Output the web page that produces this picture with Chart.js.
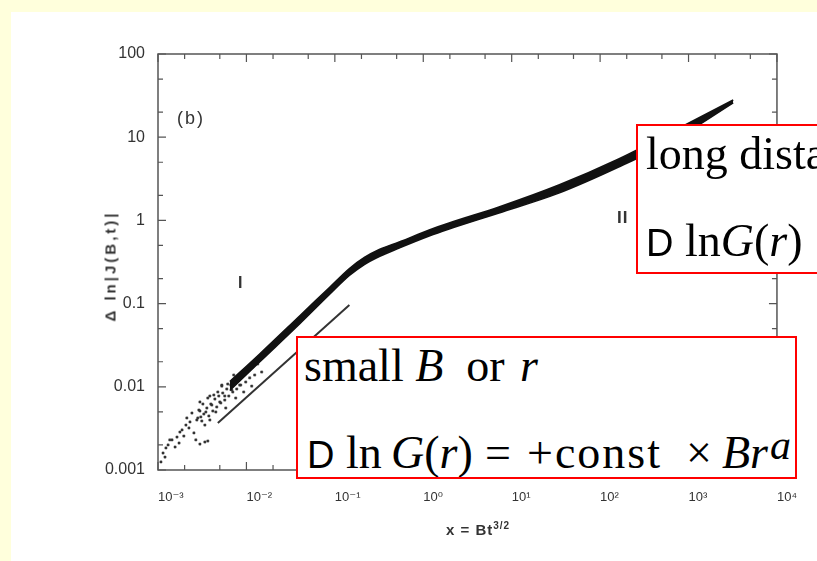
<!DOCTYPE html>
<html>
<head>
<meta charset="utf-8">
<script src="https://cdn.jsdelivr.net/npm/chart.js@4.4.1/dist/chart.umd.min.js"></script>
<style>
  html, body { margin: 0; padding: 0; width: 817px; height: 561px; overflow: hidden; background: #ffffdc; }
  #panel { position: absolute; left: 11px; top: 12px; right: 0; bottom: 0; background: #fff; }
  #wrap { position: absolute; left: 0; top: 0; width: 817px; height: 561px; }
  .lbl { position: absolute; font-family: "Liberation Sans", Arial, sans-serif; color: #333; white-space: nowrap; }
  .box { position: absolute; background: #fff; border: 2px solid #f00; box-sizing: border-box; overflow: hidden; }
  .ln { position: absolute; left: 6px; font-family: "Liberation Serif", "Times New Roman", serif; font-size: 46px; line-height: 46px; color: #000; white-space: nowrap; }
  .ln i { font-style: italic; }
  .sans { font-family: "Liberation Sans", Arial, sans-serif; font-size: 38px; }
</style>
</head>
<body>
<div id="panel"></div>
<div id="wrap"><canvas id="chart"></canvas></div>

<div class="lbl" style="left:177px; top:108px; font-size:18px; letter-spacing:2px;">(b)</div>
<div class="lbl" style="left:238px; top:274px; font-size:16px; font-weight:bold;">I</div>
<div class="lbl" style="left:617px; top:208px; font-size:17px; font-weight:bold; letter-spacing:1px;">II</div>
<div class="lbl" style="left:446px; top:520px; font-size:15px; font-weight:bold; letter-spacing:1px;">x = Bt<sup style="font-size:10px;">3/2</sup></div>
<div class="lbl" style="left:110px; top:266px; font-size:15px; font-weight:bold; letter-spacing:3px; transform: translate(-50%,-50%) rotate(-90deg);">Δ ln|J(B,t)|</div>

<div class="box" style="left:296px; top:336px; width:501px; height:143px;">
  <div class="ln" style="top:5px;">small <i>B</i>&nbsp; or <i style="margin-left:4px;">r</i></div>
  <div class="ln" style="left:9px; top:92px;"><span class="sans">D</span> ln&thinsp;<i>G</i>(<i>r</i>)</div>
  <div class="ln" style="left:187px; top:92px;">=</div>
  <div class="ln" style="left:229px; top:92px; letter-spacing:2px;">+const</div>
  <div class="ln" style="left:388px; top:92px;">×</div>
  <div class="ln" style="left:424px; top:92px;"><i>Br</i></div>
  <div class="ln" style="left:472px; top:84px; font-size:42px;"><i>a</i></div>
</div>
<div class="box" style="left:636px; top:124px; width:260px; height:150px;">
  <div class="ln" style="left:8px; top:5px;">long distance</div>
  <div class="ln" style="left:8px; top:92px;"><span class="sans">D</span> ln<i>G</i>(<i>r</i>)</div>
</div>

<script>
// tick labels
const xTicks = [1e-3, 1e-2, 1e-1, 1, 10, 100, 1e3, 1e4];
const xTickLabels = ['10⁻³', '10⁻²', '10⁻¹', '10⁰', '10¹', '10²', '10³', '10⁴'];
const yTicks = [0.001, 0.01, 0.1, 1, 10, 100];
const yTickLabels = ['0.001', '0.01', '0.1', '1', '10', '100'];

// dense band of data (upper and lower edge)
const bandX = [0.00649, 0.0141, 0.0399, 0.0869, 0.1461, 0.2157, 0.3183, 0.5351, 1.166, 1.96, 7.18, 34.1, 162, 767, 3200];
const bandUpper = [0.01158, 0.02479, 0.0710, 0.1562, 0.2642, 0.3581, 0.4468, 0.5500, 0.7666, 0.9307, 1.45, 2.66, 5.47, 12.72, 28.0];
const bandLower = [0.00903, 0.01987, 0.0569, 0.1287, 0.2176, 0.2951, 0.3683, 0.4659, 0.6494, 0.7882, 1.23, 2.13, 4.38, 9.92, 25.8];

// scattered points at small x
const scatterX = [0.00108, 0.00114, 0.0012, 0.00123, 0.0013, 0.00136, 0.00144, 0.00156, 0.00164, 0.00173, 0.00177,
  0.00187, 0.00196, 0.00207, 0.00212, 0.00224, 0.0023, 0.00242, 0.00255, 0.00268, 0.00275, 0.0029, 0.00298, 0.00305,
  0.00322, 0.00339, 0.00348, 0.00366, 0.00386, 0.00406, 0.00428, 0.00451, 0.00475, 0.005, 0.00527, 0.00569, 0.00615,
  0.00683, 0.00757, 0.0084, 0.00339, 0.00366,
  0.00282, 0.00298, 0.00313, 0.0033, 0.00357, 0.00376, 0.00396, 0.00417, 0.0044, 0.00462, 0.00487, 0.00513,
  0.0054, 0.00569, 0.006, 0.00632, 0.00666, 0.00701, 0.00738, 0.00777, 0.00819, 0.00862, 0.00908, 0.00982,
  0.01034, 0.01089, 0.01178, 0.0124, 0.00932, 0.00757, 0.00584, 0.01148, 0.01341, 0.01488,
  0.00298, 0.00386, 0.00527, 0.00719];
const scatterY = [0.00125, 0.0016, 0.00143, 0.00184, 0.002, 0.0023, 0.0023, 0.00189, 0.00249, 0.00211, 0.00286,
  0.00303, 0.00256, 0.00347, 0.00422, 0.0032, 0.00378, 0.00484, 0.00279, 0.0023, 0.00399, 0.00526, 0.00205, 0.00434,
  0.00621, 0.00347, 0.00498, 0.00733, 0.00399, 0.00604, 0.00797, 0.00498, 0.00866, 0.00657, 0.0102, 0.00775, 0.0108,
  0.00916, 0.0128, 0.0105, 0.00217, 0.00223,
  0.00422, 0.00512, 0.00388, 0.00471, 0.00556, 0.00446, 0.00621, 0.00512, 0.00713, 0.00572, 0.00775, 0.00639,
  0.00842, 0.00693, 0.00941, 0.00775, 0.0105, 0.00866, 0.01174, 0.00941, 0.0128, 0.0105, 0.01425, 0.01142,
  0.01549, 0.0128, 0.0173, 0.01386, 0.00866, 0.00733, 0.00556, 0.0102, 0.0188, 0.01506,
  0.00657, 0.00775, 0.0105, 0.01386];

// slope guide line
const guideX = [0.00475, 0.146];
const guideY = [0.00367, 0.0962];

const pts = (xs, ys) => xs.map((v, i) => ({ x: v, y: ys[i] }));

// frame with inward ticks on all four sides
const frameTicks = {
  id: 'frameTicks',
  afterDraw(chart) {
    const { ctx, chartArea: a, scales: { x, y } } = chart;
    ctx.save();
    ctx.strokeStyle = '#555';
    ctx.lineWidth = 1.5;
    ctx.strokeRect(a.left, a.top, a.right - a.left, a.bottom - a.top);
    ctx.lineWidth = 1.2;
    xTicks.forEach(d => {
      [1, 2, 5].forEach(m => {
        const v = d * m;
        if (v > xTicks[xTicks.length - 1]) return;
        const px = x.getPixelForValue(v), len = m === 1 ? 8 : 5;
        ctx.beginPath();
        ctx.moveTo(px, a.bottom); ctx.lineTo(px, a.bottom - len);
        ctx.moveTo(px, a.top); ctx.lineTo(px, a.top + len);
        ctx.stroke();
      });
    });
    yTicks.forEach(d => {
      [1, 2, 5].forEach(m => {
        const v = d * m;
        if (v > yTicks[yTicks.length - 1]) return;
        const py = y.getPixelForValue(v), len = m === 1 ? 8 : 5;
        ctx.beginPath();
        ctx.moveTo(a.left, py); ctx.lineTo(a.left + len, py);
        ctx.moveTo(a.right, py); ctx.lineTo(a.right - len, py);
        ctx.stroke();
      });
    });
    ctx.restore();
  }
};

new Chart(document.getElementById('chart'), {
  type: 'line',
  data: {
    datasets: [
      {
        data: pts(bandX, bandUpper),
        borderColor: '#111', borderWidth: 1.5, backgroundColor: '#111',
        fill: '+1', pointRadius: 0, cubicInterpolationMode: 'monotone'
      },
      {
        data: pts(bandX, bandLower),
        borderColor: '#111', borderWidth: 1.5, fill: false,
        pointRadius: 0, cubicInterpolationMode: 'monotone'
      },
      {
        data: pts(scatterX, scatterY),
        showLine: false, pointRadius: 1.5, pointStyle: 'rect',
        backgroundColor: '#333', borderColor: '#333', borderWidth: 0.5
      },
      {
        data: pts(guideX, guideY),
        borderColor: '#333', borderWidth: 2, pointRadius: 0, fill: false
      }
    ]
  },
  options: {
    responsive: true,
    maintainAspectRatio: false,
    animation: false,
    layout: { padding: { left: 0, top: 54, right: 38, bottom: 0 } },
    plugins: { legend: { display: false }, tooltip: { enabled: false } },
    scales: {
      x: {
        type: 'logarithmic', min: 1e-3, max: 1e4,
        grid: { display: false, drawTicks: false }, border: { display: false },
        afterBuildTicks: s => { s.ticks = xTicks.map(v => ({ value: v })); },
        afterFit: s => { s.height = 91; },
        ticks: {
          callback: (v, i) => xTickLabels[i],
          font: { family: 'Liberation Sans, DejaVu Sans, sans-serif', size: 13 },
          color: '#333', padding: 20, maxRotation: 0, autoSkip: false, align: 'start'
        }
      },
      y: {
        type: 'logarithmic', min: 0.001, max: 100,
        grid: { display: false, drawTicks: false }, border: { display: false },
        afterBuildTicks: s => { s.ticks = yTicks.map(v => ({ value: v })); },
        afterFit: s => { s.width = 158; },
        ticks: {
          callback: (v, i) => yTickLabels[i],
          font: { family: 'Liberation Sans, sans-serif', size: 16 },
          color: '#333', padding: 13, autoSkip: false
        }
      }
    }
  },
  plugins: [frameTicks]
});
</script>
</body>
</html>
